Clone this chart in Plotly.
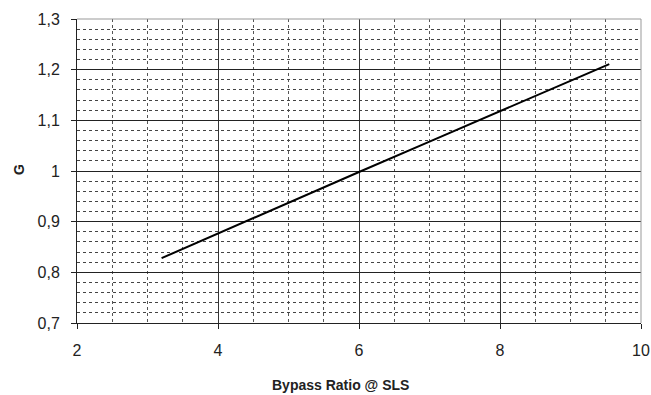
import plotly.graph_objects as go

# bypass ratio vs G
bypass_ratio = [3.2, 4.0, 5.0, 6.0, 7.0, 8.0, 9.0, 9.55]
g_values = [0.828, 0.877, 0.938, 0.998, 1.058, 1.118, 1.178, 1.211]

fig = go.Figure()

fig.add_trace(go.Scatter(
    x=bypass_ratio,
    y=g_values,
    mode="lines",
    line=dict(color="black", width=2),
    showlegend=False,
))

font = "Liberation Sans, Arial, sans-serif"

fig.update_layout(
    width=651,
    height=395,
    margin=dict(l=77, r=10, t=19, b=72),
    plot_bgcolor="white",
    paper_bgcolor="white",
    separators=", ",
    font=dict(family=font, size=16, color="#222"),
    xaxis=dict(
        range=[2, 10],
        dtick=2,
        automargin=False,
        showgrid=True,
        gridcolor="#333",
        gridwidth=1,
        minor=dict(dtick=0.5, showgrid=True, gridcolor="#555", griddash="dot", gridwidth=1),
        ticks="outside",
        ticklen=5,
        tickcolor="#222",
        ticklabelstandoff=8,
        showline=True,
        linecolor="#222",
        zeroline=False,
    ),
    yaxis=dict(
        range=[0.7, 1.3],
        dtick=0.1,
        automargin=False,
        showgrid=True,
        gridcolor="#222",
        gridwidth=1,
        minor=dict(dtick=0.02, showgrid=True, gridcolor="#444", griddash="dot", gridwidth=1),
        ticks="outside",
        ticklen=5,
        tickcolor="#222",
        ticklabelstandoff=8,
        showline=True,
        linecolor="#222",
        zeroline=False,
    ),
    shapes=[
        dict(type="line", xref="paper", yref="paper", x0=0, x1=1, y0=1, y1=1,
             line=dict(color="#999", width=1)),
        dict(type="line", xref="paper", yref="paper", x0=1, x1=1, y0=0, y1=1,
             line=dict(color="#999", width=1)),
    ],
    annotations=[
        dict(text="<b>Bypass Ratio @ SLS</b>", xref="paper", yref="paper",
             x=(340 - 77) / 564, y=-62 / 304, showarrow=False,
             xanchor="center", yanchor="middle", font=dict(size=14)),
        dict(text="<b>G</b>", xref="paper", yref="paper",
             x=-58 / 564, y=(323 - 170) / 304, showarrow=False, textangle=-90,
             xanchor="center", yanchor="middle", font=dict(size=14)),
    ],
)

# drop the default body margin so the figure sits at the window's top-left
fig.write_html("out.html", config={"displayModeBar": False},
               post_script="document.body.style.margin='0';")
